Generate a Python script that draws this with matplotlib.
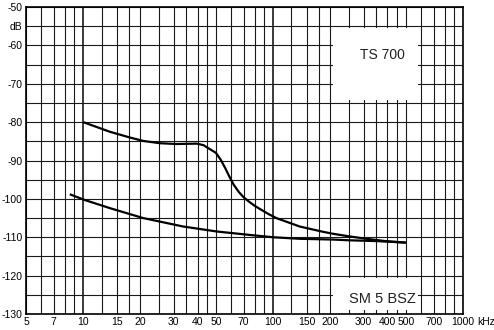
import matplotlib.pyplot as plt
from matplotlib.patches import Rectangle
from matplotlib.ticker import NullFormatter

plt.rcParams['font.family'] = 'Liberation Sans'
plt.rcParams['font.size'] = 7.5

# Curve readings (frequency in kHz, level in dB)
ts_freq = [10, 13.8, 17.6, 20.7, 25.4, 31, 39.6, 43, 46, 50, 53, 56, 59, 62,
           66, 70, 75, 80, 85, 95, 104, 138, 184, 207, 254, 310, 390, 500]
ts_db = [-80.0, -82.5, -84.0, -84.9, -85.5, -85.7, -85.6, -86.0, -86.9, -88.0, -89.8, -92.0, -94.3, -96.3,
         -98.2, -99.6, -100.8, -101.8, -102.6, -104.0, -105.0, -107.2, -108.6, -109.1, -109.8, -110.4, -111.0, -111.4]

sm_freq = [8.5, 10.2, 13.8, 20.7, 33.6, 50.5, 75.5, 100, 138, 207, 254, 351, 500]
sm_db = [-98.8, -100.3, -102.4, -105.0, -107.2, -108.5, -109.4, -110.0, -110.4,
         -110.6, -110.8, -111.0, -111.4]

# Axis layout
grid_freqs = [5, 6, 7, 8, 9, 10, 12.5, 15, 17.5, 20, 25, 30, 35, 40, 45, 50, 60, 70, 80, 90,
              100, 125, 150, 175, 200, 250, 300, 350, 400, 450, 500, 600, 700, 800, 900, 1000]
label_freqs = [5, 7, 10, 15, 20, 30, 40, 50, 70, 100, 150, 200, 300, 400, 500, 700, 1000]
label_text = ['5', '7', '10', '15', '20', '30', '40', '50', '70', '100', '150', '200',
              '300', '400', '500', '700', '1000']
grid_db = [-50, -55, -60, -65, -70, -75, -80, -85, -90, -95, -100, -105, -110, -115, -120, -125, -130]
label_db = [-50, -55, -60, -70, -80, -90, -100, -110, -120, -130]
label_db_text = ['-50', 'dB', '-60', '-70', '-80', '-90', '-100', '-110', '-120', '-130']

fig = plt.figure(figsize=(4.94, 3.30), dpi=100)
ax = fig.add_axes([26 / 494, 1 - 314 / 330, 437 / 494, 307 / 330])
ax.set_xscale('log')
ax.set_xlim(5, 1000)
ax.set_ylim(-130, -50)

# Grid
for f in grid_freqs:
    lw = 1.2 if f in (10, 100) else 0.8
    ax.axvline(f, color='#1a1a1a', lw=lw, zorder=1)
for d in grid_db:
    ax.axhline(d, color='#1a1a1a', lw=0.8, zorder=1)

# Label boxes (grid cut out, short stubs left at the edges)
ax.add_patch(Rectangle((206, -74.2), 376, 18.6, facecolor='white', edgecolor='none', zorder=2))
ax.add_patch(Rectangle((206, -129.0), 376, 8.3, facecolor='white', edgecolor='none', zorder=2))
ax.text(375, -62.5, 'TS 700', ha='center', va='center', fontsize=10, color='#222222', zorder=3)
ax.text(375, -126.0, 'SM 5 BSZ', ha='center', va='center', fontsize=10.5, color='#222222', zorder=3)

# Curves
ax.plot(ts_freq, ts_db, color='black', lw=1.6, zorder=4, solid_capstyle='butt')
ax.plot(sm_freq, sm_db, color='black', lw=1.6, zorder=4, solid_capstyle='butt')

# Ticks and labels
ax.set_xticks(label_freqs, label_text)
ax.xaxis.set_minor_formatter(NullFormatter())
ax.set_yticks(label_db, label_db_text)
ax.tick_params(which='both', length=0, pad=2.5)
ax.annotate('kHz', xy=(1, 0), xycoords='axes fraction', xytext=(10.5, -2.5),
            textcoords='offset points', ha='left', va='top', fontsize=7.5)

for s in ax.spines.values():
    s.set_linewidth(1.2)
    s.set_zorder(5)

plt.savefig('out.png', dpi=100)
